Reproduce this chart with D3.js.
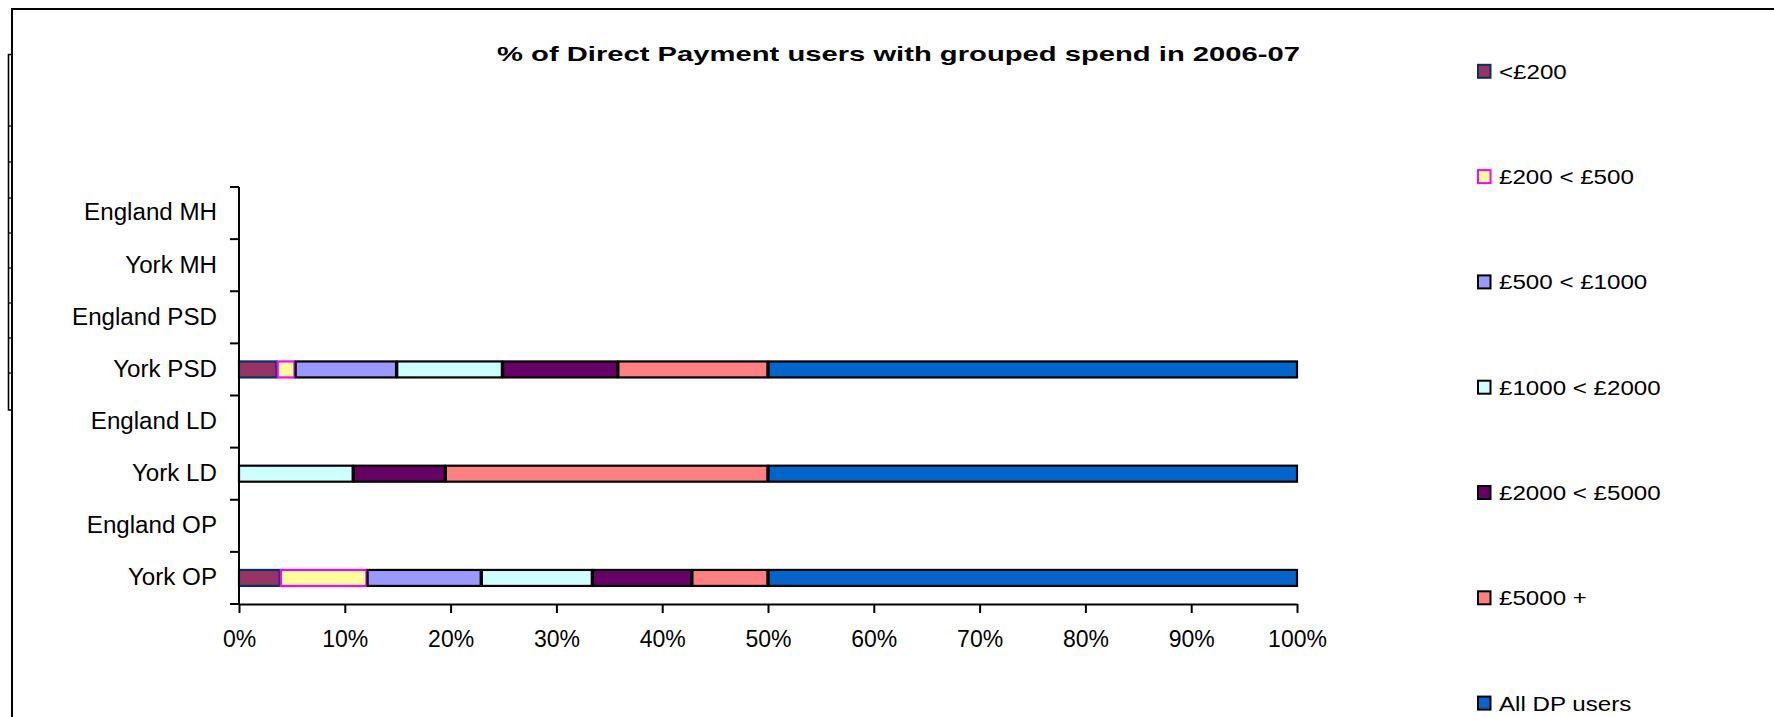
<!DOCTYPE html>
<html>
<head>
<meta charset="utf-8">
<script src="https://cdn.jsdelivr.net/npm/d3@7"></script>
<style>
  html, body { margin: 0; padding: 0; background: #fff; }
  svg { display: block; font-family: "Liberation Sans", Arial, sans-serif; }
</style>
</head>
<body>
<svg id="chart" width="1774" height="717"></svg>
<script>
// Client groups, top to bottom
const categories = ["England MH", "York MH", "England PSD", "York PSD",
                    "England LD", "York LD", "England OP", "York OP"];

// Spend bands (share of each stacked bar, %)
const seriesNames = ["<£200", "£200 < £500", "£500 < £1000", "£1000 < £2000",
                     "£2000 < £5000", "£5000 +", "All DP users"];
const under200     = [0, 0, 0,  3.6, 0,  0,   0,  3.9];
const from200to500 = [0, 0, 0,  1.7, 0,  0,   0,  8.2];
const from500to1k  = [0, 0, 0,  9.6, 0,  0,   0, 10.8];
const from1kto2k   = [0, 0, 0, 10.0, 0, 10.8, 0, 10.5];
const from2kto5k   = [0, 0, 0, 10.9, 0,  8.7, 0,  9.4];
const over5k       = [0, 0, 0, 14.2, 0, 30.5, 0,  7.2];
const allDPUsers   = [0, 0, 0, 50,   0, 50,   0, 50];

const xTickValues = [0, 10, 20, 30, 40, 50, 60, 70, 80, 90, 100];

const fills   = ["#993366", "#FFFF99", "#9999FF", "#CCFFFF", "#660066", "#FF8080", "#0066CC"];
const strokes = ["#003366", "#FF00FF", "#000000", "#000000", "#000000", "#000000", "#000000"];

const seriesValues = [under200, from200to500, from500to1k, from1kto2k, from2kto5k, over5k, allDPUsers];
const table = categories.map((c, i) => {
  const row = { cat: c };
  seriesNames.forEach((s, k) => { row[s] = seriesValues[k][i]; });
  return row;
});

const svg = d3.select("#chart");
svg.append("rect").attr("width", 1774).attr("height", 717).attr("fill", "#fff");

// chart frame
svg.append("path")
  .attr("d", "M12,717V9H1774")
  .attr("fill", "none").attr("stroke", "#000").attr("stroke-width", 2);
// partially hidden object edge behind the frame
svg.append("path")
  .attr("d", "M12,54.5H8.5V410H12")
  .attr("fill", "none").attr("stroke", "#000").attr("stroke-width", 1.6);
[126, 162, 198, 233, 268, 303, 338, 373].forEach(yy => {
  svg.append("line").attr("x1", 8).attr("x2", 11).attr("y1", yy).attr("y2", yy)
    .attr("stroke", "#000").attr("stroke-width", 1.2);
});

const x = d3.scaleLinear().domain([0, 100]).range([239, 1297]);
const y = d3.scaleBand().domain(categories).range([187, 604])
  .paddingInner(0.693).paddingOuter(0.3465);

const stack = d3.stack().keys(seriesNames);
const layers = stack(table);

// segments are inset slightly so neighbouring borders read as a thick divider
const inset = 0.6;
const gBars = svg.append("g");
layers.forEach((layer, k) => {
  gBars.append("g")
    .attr("fill", fills[k])
    .attr("stroke", strokes[k])
    .attr("stroke-width", 2.2)
    .selectAll("rect")
    .data(layer.filter(d => d[1] - d[0] > 0))
    .join("rect")
    .attr("x", d => x(d[0]) + (d[0] > 0 ? inset : 0))
    .attr("y", d => y(d.data.cat))
    .attr("width", d => x(d[1]) - x(d[0]) - (d[0] > 0 ? inset : 0) - (d[1] < 100 ? inset : 0))
    .attr("height", y.bandwidth());
});

// y axis: labels centred on bands, ticks on band boundaries
const yAxis = svg.append("g")
  .attr("transform", "translate(239,0)")
  .call(d3.axisLeft(y).tickSize(0).tickPadding(0));
yAxis.select(".domain").remove();
yAxis.selectAll("text")
  .attr("x", null)
  .attr("transform", "translate(-22,0) scale(1.05,1)")
  .attr("font-family", "'Liberation Sans', Arial, sans-serif")
  .attr("font-size", 23).attr("fill", "#000");

const step = y.step();
const top0 = y(categories[0]) - (step - y.bandwidth()) / 2;
const boundaries = d3.range(categories.length + 1).map(i => top0 + i * step);
svg.append("g").selectAll("line")
  .data(boundaries).join("line")
  .attr("x1", 230).attr("x2", 239)
  .attr("y1", d => d).attr("y2", d => d)
  .attr("stroke", "#000").attr("stroke-width", 2);
svg.append("line")
  .attr("x1", 239).attr("x2", 239)
  .attr("y1", boundaries[0]).attr("y2", boundaries[boundaries.length - 1] + 1)
  .attr("stroke", "#000").attr("stroke-width", 2);

// x axis
const xAxis = svg.append("g")
  .attr("transform", `translate(0,${boundaries[boundaries.length - 1]})`)
  .call(d3.axisBottom(x).tickValues(xTickValues).tickFormat(d => d + "%")
        .tickSize(9).tickSizeOuter(0).tickPadding(18));
xAxis.select(".domain").attr("stroke-width", 2);
xAxis.selectAll(".tick line").attr("stroke-width", 2);
xAxis.selectAll("text")
  .attr("font-family", "'Liberation Sans', Arial, sans-serif")
  .attr("font-size", 23).attr("fill", "#000");

// title
svg.append("text")
  .attr("x", 898.5).attr("y", 61)
  .attr("text-anchor", "middle")
  .attr("font-weight", "bold").attr("font-size", 21)
  .attr("textLength", 803).attr("lengthAdjust", "spacingAndGlyphs")
  .text("% of Direct Payment users with grouped spend in 2006-07");

// legend
const legend = svg.append("g");
seriesNames.forEach((name, k) => {
  const cy = 71.3 + k * 105.3;
  legend.append("rect")
    .attr("x", 1478).attr("y", cy - 6.5).attr("width", 12.5).attr("height", 13)
    .attr("fill", fills[k]).attr("stroke", strokes[k]).attr("stroke-width", 2);
  legend.append("text")
    .attr("transform", `translate(1499,${cy}) scale(1.15,1)`)
    .attr("dy", "0.36em")
    .attr("font-size", 21)
    .text(name);
});
</script>
</body>
</html>
